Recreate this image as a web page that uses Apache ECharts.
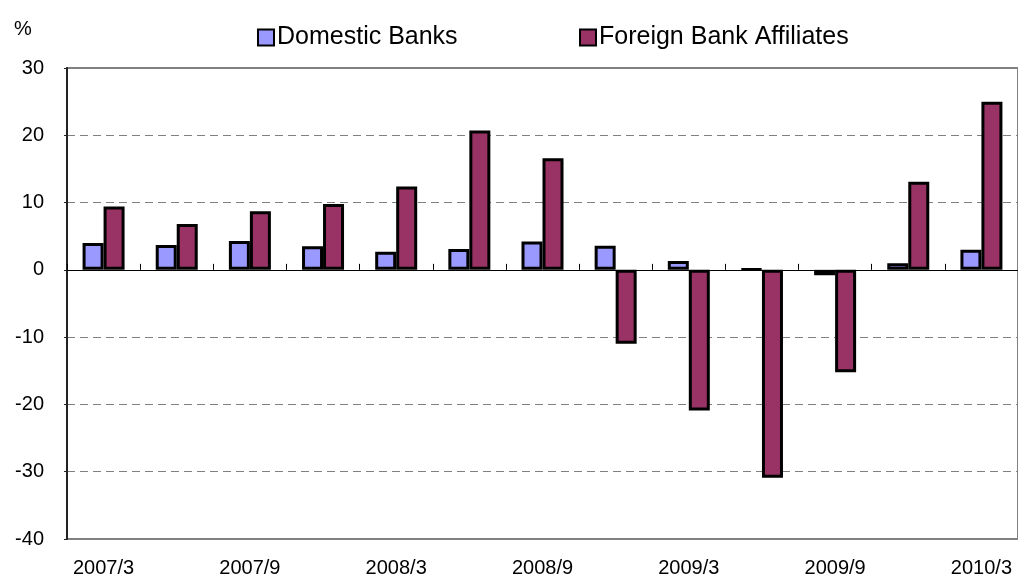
<!DOCTYPE html>
<html>
<head>
<meta charset="utf-8">
<script src="https://cdn.jsdelivr.net/npm/echarts@6/dist/echarts.min.js"></script>
<style>
  html, body { margin: 0; padding: 0; background: #fff; }
  #chart { width: 1018px; height: 579px; }
</style>
</head>
<body>
<div id="chart"></div>
<script>
// Quarterly growth rates (%), March 2007 to March 2010
const categories = ['2007/3', '2007/6', '2007/9', '2007/12', '2008/3', '2008/6', '2008/9',
                    '2008/12', '2009/3', '2009/6', '2009/9', '2009/12', '2010/3'];
const domesticBanks = [4.0, 3.7, 4.3, 3.5, 2.7, 3.1, 4.2, 3.6, 1.3, 0.1, -0.8, 1.0, 3.0];
const foreignAffiliates = [9.4, 6.8, 8.7, 9.8, 12.4, 20.7, 16.6, -11.0, -20.9, -30.9, -15.2, 13.1, 25.0];
const yTicks = { min: -40, max: 30, interval: 10 };

const FONT = "'Liberation Sans', Arial, sans-serif";

const chart = echarts.init(document.getElementById('chart'), null, { renderer: 'canvas' });

const legendBase = {
  top: 20,
  itemWidth: 16, itemHeight: 16, itemGap: 0,
  icon: 'rect',
  itemStyle: { borderColor: '#000', borderWidth: 2 },
  textStyle: { fontFamily: FONT, fontSize: 25, color: '#000', padding: [0, 0, 0, -2] }
};

chart.setOption({
  animation: false,
  backgroundColor: '#ffffff',
  textStyle: { fontFamily: FONT, color: '#000' },
  title: {
    text: '%',
    left: 9,
    top: 14,
    textStyle: { fontFamily: FONT, fontSize: 20, fontWeight: 'normal', color: '#000' }
  },
  legend: [
    Object.assign({ data: ['Domestic Banks'], left: 252 }, legendBase),
    Object.assign({ data: ['Foreign Bank Affiliates'], left: 574 }, legendBase)
  ],
  grid: {
    left: 67, right: -4, top: 68, bottom: 40,
    show: true,
    borderColor: '#808080',
    borderWidth: 2,
    backgroundColor: 'transparent'
  },
  xAxis: [
    {
      // zero line with inward ticks between categories
      type: 'category',
      data: categories,
      position: 'bottom',
      axisLine: { onZero: true, lineStyle: { color: '#000', width: 1 } },
      axisTick: { show: true, inside: true, length: 6, interval: 0, lineStyle: { color: '#000', width: 1 } },
      axisLabel: { show: false },
      splitLine: { show: false }
    },
    {
      // category labels along the bottom edge
      type: 'category',
      data: categories,
      position: 'bottom',
      axisLine: { show: false, onZero: false },
      axisTick: { show: false },
      axisLabel: {
        interval: 1,
        margin: 19,
        fontFamily: FONT,
        fontSize: 20,
        color: '#000'
      },
      splitLine: { show: false }
    }
  ],
  yAxis: {
    type: 'value',
    min: yTicks.min,
    max: yTicks.max,
    interval: yTicks.interval,
    axisLine: { show: true, lineStyle: { color: '#222', width: 2 } },
    axisTick: { show: true, length: 3, lineStyle: { color: '#222', width: 1 } },
    axisLabel: { margin: 23, fontFamily: FONT, fontSize: 20, color: '#000' },
    splitLine: {
      show: true,
      showMinLine: false,
      showMaxLine: false,
      lineStyle: { color: '#808080', width: 1, type: [8, 5] }
    }
  },
  series: [
    {
      name: 'Domestic Banks',
      type: 'bar',
      xAxisIndex: 0,
      data: domesticBanks,
      barWidth: 21,
      barGap: '0%',
      itemStyle: { color: '#9999FF', borderColor: '#000', borderWidth: 3 }
    },
    {
      name: 'Foreign Bank Affiliates',
      type: 'bar',
      xAxisIndex: 0,
      data: foreignAffiliates,
      barWidth: 21,
      barGap: '0%',
      itemStyle: { color: '#993366', borderColor: '#000', borderWidth: 3 }
    }
  ]
});
</script>
</body>
</html>
